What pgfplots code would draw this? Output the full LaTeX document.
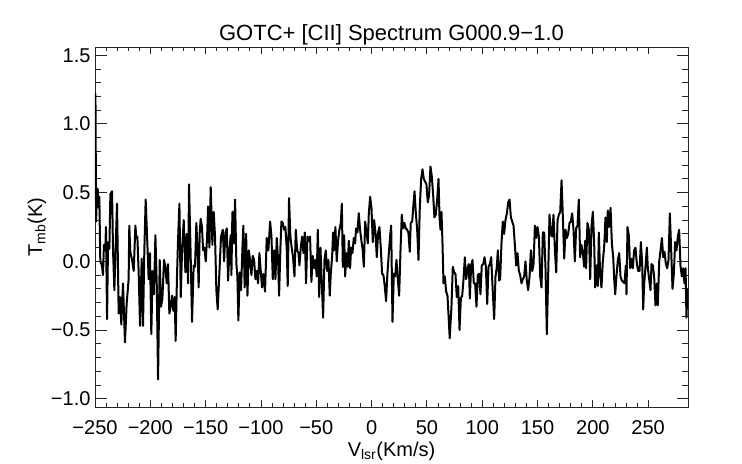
\documentclass[border=0pt]{standalone}
\usepackage{pgfplots}
\pgfplotsset{compat=1.18}
\usepackage{pgfplotstable}
\usepackage{fontspec}
\setmainfont{Liberation Sans}
\pgfplotstableread{
v T
-250.0 0.95
-249.6 1.22
-249.0 0.29
-248.5 0.45
-247.6 0.53
-246.7 0.39
-246.1 0.47
-245.2 0.00
-243.7 -0.03
-242.8 -0.10
-241.9 0.12
-240.7 0.08
-240.1 0.25
-239.1 -0.42
-238.2 0.14
-237.0 0.09
-236.1 0.49
-234.6 0.51
-233.7 0.08
-232.5 -0.21
-231.6 0.03
-230.1 0.42
-228.6 -0.38
-227.4 -0.26
-226.2 -0.46
-224.7 -0.16
-222.9 -0.59
-221.4 -0.31
-219.6 -0.13
-219.0 0.26
-218.1 0.07
-216.5 0.01
-215.0 -0.07
-213.5 0.26
-212.6 0.17
-211.7 0.18
-210.5 -0.09
-209.3 -0.47
-207.8 0.02
-206.6 -0.47
-205.4 0.08
-204.2 0.45
-203.0 0.20
-201.5 -0.13
-200.3 0.06
-199.1 -0.53
-197.9 -0.07
-196.7 -0.24
-195.4 0.19
-194.2 -0.16
-193.0 -0.86
-191.5 0.01
-190.3 -0.33
-189.1 -0.27
-187.6 0.01
-186.4 -0.04
-185.2 -0.16
-184.0 -0.02
-182.8 -0.38
-181.6 -0.33
-180.4 -0.25
-179.2 -0.36
-178.0 -0.26
-177.1 -0.58
-175.9 -0.11
-175.0 0.14
-173.7 0.42
-172.5 -0.26
-171.3 0.08
-169.8 0.30
-168.3 -0.08
-167.1 0.20
-165.9 -0.16
-165.0 0.56
-163.5 0.03
-162.3 -0.44
-160.8 -0.03
-159.6 -0.04
-158.4 0.28
-157.2 0.06
-156.3 -0.19
-155.4 0.20
-154.5 0.31
-153.3 0.25
-152.3 0.08
-151.1 0.10
-149.9 0.00
-148.7 0.17
-147.8 0.40
-146.6 0.10
-145.4 0.54
-143.9 0.12
-142.7 0.36
-141.5 0.18
-140.3 -0.21
-139.1 -0.35
-137.6 -0.09
-136.1 0.18
-134.5 0.23
-133.3 0.00
-132.1 0.21
-130.9 0.24
-129.7 -0.14
-128.5 0.08
-127.3 0.19
-126.7 -0.10
-125.8 0.36
-124.6 0.13
-123.4 0.45
-122.2 -0.02
-121.3 -0.11
-120.4 -0.43
-119.2 -0.08
-118.0 -0.21
-116.8 0.08
-115.9 0.26
-114.7 -0.19
-113.4 0.20
-112.2 -0.25
-111.0 0.08
-109.8 0.01
-108.6 -0.10
-107.4 0.04
-106.2 0.01
-105.0 -0.13
-103.8 -0.07
-102.6 -0.16
-101.4 0.06
-100.2 -0.07
-99.0 -0.19
-97.8 -0.09
-96.3 -0.22
-94.8 0.17
-93.3 0.08
-91.7 0.29
-90.5 0.18
-89.3 -0.13
-88.1 0.08
-86.9 -0.13
-85.7 0.17
-84.5 0.01
-83.6 -0.25
-82.4 0.10
-81.5 0.29
-80.3 0.28
-79.1 0.23
-77.9 0.25
-76.7 0.09
-75.8 -0.18
-74.6 0.46
-73.4 0.18
-72.2 0.10
-71.0 0.03
-69.7 -0.11
-68.5 0.23
-67.3 0.08
-66.1 0.06
-65.2 -0.03
-64.0 0.10
-62.8 0.18
-61.6 0.06
-60.4 0.21
-59.2 -0.16
-58.0 0.18
-56.8 0.15
-55.6 0.18
-54.4 -0.15
-53.2 0.04
-52.0 -0.05
-50.8 0.01
-49.6 -0.11
-48.6 0.23
-47.4 -0.26
-46.2 0.10
-45.0 -0.16
-43.8 -0.41
-42.6 0.01
-41.4 0.08
-40.2 -0.07
-39.0 0.01
-37.8 -0.25
-36.9 -0.09
-35.7 0.03
-34.8 0.21
-33.9 0.08
-32.7 0.25
-31.5 0.00
-30.3 0.15
-29.1 0.23
-27.8 0.28
-26.9 0.42
-26.0 -0.04
-24.8 0.19
-23.9 -0.11
-22.7 0.06
-21.5 -0.04
-20.6 0.15
-19.4 -0.05
-18.5 0.10
-17.3 0.06
-16.1 0.17
-14.9 0.13
-14.0 0.24
-12.8 0.21
-11.6 0.35
-10.4 0.23
-9.2 0.15
-8.0 0.08
-7.0 -0.04
-5.8 0.29
-4.6 0.21
-3.4 0.13
-2.5 0.35
-1.3 0.47
-0.1 0.39
1.1 0.14
2.3 0.30
3.5 0.21
4.7 0.03
5.9 0.21
7.1 0.25
8.3 0.10
9.5 -0.09
10.7 -0.10
11.9 -0.18
13.1 -0.29
14.3 -0.09
15.6 0.06
16.8 0.19
17.7 0.26
18.9 -0.44
20.1 -0.09
21.3 -0.11
22.5 0.01
23.7 -0.13
24.9 -0.25
26.1 0.07
27.3 0.34
28.5 0.24
29.7 0.28
30.9 0.24
32.1 0.23
33.3 0.21
34.5 0.07
35.4 0.28
36.7 0.29
37.9 0.42
38.8 0.51
40.0 0.35
41.2 0.23
42.4 0.01
43.6 0.40
44.8 0.60
46.0 0.67
47.2 0.60
48.4 0.58
49.6 0.56
50.8 0.43
52.0 0.48
53.2 0.69
54.4 0.62
55.6 0.49
56.8 0.32
58.0 0.34
59.3 0.45
60.5 0.60
61.4 0.32
62.3 0.23
63.2 0.36
64.1 0.13
65.0 -0.16
66.2 -0.11
67.4 -0.22
68.6 -0.25
69.6 -0.40
70.6 -0.56
72.2 -0.33
73.4 -0.04
74.6 -0.08
75.8 -0.09
77.0 -0.26
78.3 -0.18
79.5 -0.50
80.7 -0.27
81.9 -0.25
83.1 -0.13
84.3 0.03
85.5 -0.13
86.7 -0.05
87.9 -0.02
88.8 -0.27
90.0 -0.03
91.2 0.01
92.4 -0.16
93.6 -0.16
94.8 -0.33
96.0 -0.10
97.2 -0.09
98.4 -0.24
99.6 -0.03
100.9 -0.02
102.1 0.03
103.3 -0.04
104.5 -0.31
105.7 -0.04
106.9 -0.02
108.1 0.03
109.3 -0.18
110.8 -0.42
112.0 -0.11
113.2 -0.04
114.1 0.08
115.3 -0.14
116.2 -0.13
117.4 0.13
118.6 0.29
119.8 0.20
121.0 0.30
122.3 0.35
123.5 0.43
124.7 0.45
125.9 0.32
127.1 0.29
128.3 0.26
129.5 0.12
130.7 -0.03
131.9 0.06
133.1 -0.07
134.3 -0.10
135.5 -0.16
136.7 -0.13
137.9 -0.11
139.1 0.00
140.3 -0.14
141.5 -0.21
142.8 -0.11
144.0 0.08
145.2 -0.07
146.4 -0.02
147.6 0.26
148.8 0.17
150.0 0.25
151.2 0.18
152.4 -0.11
153.6 -0.19
154.8 0.21
156.0 0.21
157.2 -0.05
158.4 -0.53
159.6 -0.11
160.8 0.34
162.0 0.20
163.2 0.18
164.4 0.34
165.7 0.08
166.9 -0.08
168.1 0.30
169.3 0.34
170.5 0.36
171.7 0.59
172.9 0.32
174.1 0.02
175.3 0.23
176.5 0.17
177.7 0.20
178.9 0.28
180.1 0.29
181.3 0.35
182.5 0.23
183.7 0.00
184.9 0.24
186.1 0.26
187.3 0.45
188.5 0.03
189.7 0.12
190.9 0.07
192.1 -0.04
193.0 0.15
193.9 -0.05
195.1 0.28
196.4 0.23
197.6 -0.13
198.8 0.26
200.0 0.36
201.2 0.13
202.1 -0.19
203.3 -0.03
204.5 -0.18
205.4 0.21
206.6 -0.10
207.8 -0.19
209.0 0.00
210.2 0.10
211.4 0.32
212.6 0.14
213.5 0.37
214.7 0.25
216.0 0.39
217.2 0.13
218.4 0.03
219.3 -0.13
220.2 -0.24
221.4 -0.10
222.6 0.01
223.8 0.06
225.0 -0.11
226.2 -0.14
227.4 -0.15
228.6 -0.16
229.8 -0.03
230.4 -0.24
231.3 0.25
232.5 0.19
233.7 -0.05
234.9 0.02
236.1 -0.05
237.3 0.08
238.5 0.10
239.8 -0.02
241.0 -0.07
242.2 -0.07
243.4 0.14
244.6 -0.02
245.5 -0.35
246.4 -0.16
247.6 -0.04
248.8 0.10
249.7 -0.05
250.9 -0.13
252.1 -0.21
253.0 -0.02
254.2 -0.03
255.4 -0.11
256.6 -0.32
257.8 -0.16
258.7 -0.32
260.0 0.00
261.2 0.08
262.4 0.17
263.6 0.03
264.8 0.07
266.0 -0.02
267.2 -0.05
268.4 0.01
269.6 0.35
270.8 0.08
272.0 -0.20
273.2 -0.09
274.4 0.14
275.6 0.08
276.8 0.18
278.0 0.23
279.2 -0.03
280.4 -0.11
281.6 -0.05
282.8 -0.16
283.8 -0.05
284.6 -0.41
285.5 -0.20
}\spec
\begin{document}
\begin{tikzpicture}
\useasboundingbox (-95bp,-57bp) rectangle (647bp,407bp);
\begin{axis}[
  scale only axis,
  width=593bp, height=360bp,
  xmin=-250, xmax=286,
  ymin=-1.06, ymax=1.56,
  axis line style={black!85, line width=0.9bp},
  tick style={black!85, line width=0.9bp},
  tick align=inside,
  xtick pos=both, ytick pos=both,
  xtick={-250,-200,-150,-100,-50,0,50,100,150,200,250},
  xticklabels={−250,−200,−150,−100,−50,0,50,100,150,200,250},
  ytick={-1,-0.5,0,0.5,1,1.5},
  yticklabels={−1.0,−0.5,0.0,0.5,1.0,1.5},
  minor x tick num=4,
  minor y tick num=4,
  major tick length=9bp,
  minor tick length=4.5bp,
  xtick style={/pgfplots/major tick length=7.2bp,/pgfplots/minor tick length=3.6bp},
  ytick style={/pgfplots/major tick length=11.5bp,/pgfplots/minor tick length=5.8bp},
  ticklabel style={font=\fontsize{20bp}{24bp}\selectfont},
  xticklabel style={yshift=-10bp},
  yticklabel style={xshift=-1bp},
  title={GOTC+ [CII] Spectrum G000.9−1.0},
  title style={font=\fontsize{22bp}{26bp}\selectfont, at={(axis description cs:0.5,1)}, anchor=base, yshift=1bp},
  xlabel={V\textsubscript{lsr}(Km/s)},
  xlabel style={font=\fontsize{20bp}{24bp}\selectfont, at={(axis description cs:0.5,-0.1375)}, anchor=base},
  ylabel={T\textsubscript{mb}(K)},
  ylabel style={font=\fontsize{20bp}{24bp}\selectfont, at={(axis description cs:-0.0978,0.5)}, anchor=center},
]
\addplot[black, line width=2bp, line join=round, mark=none] table[x=v,y=T] {\spec};
\end{axis}
\end{tikzpicture}
\end{document}
